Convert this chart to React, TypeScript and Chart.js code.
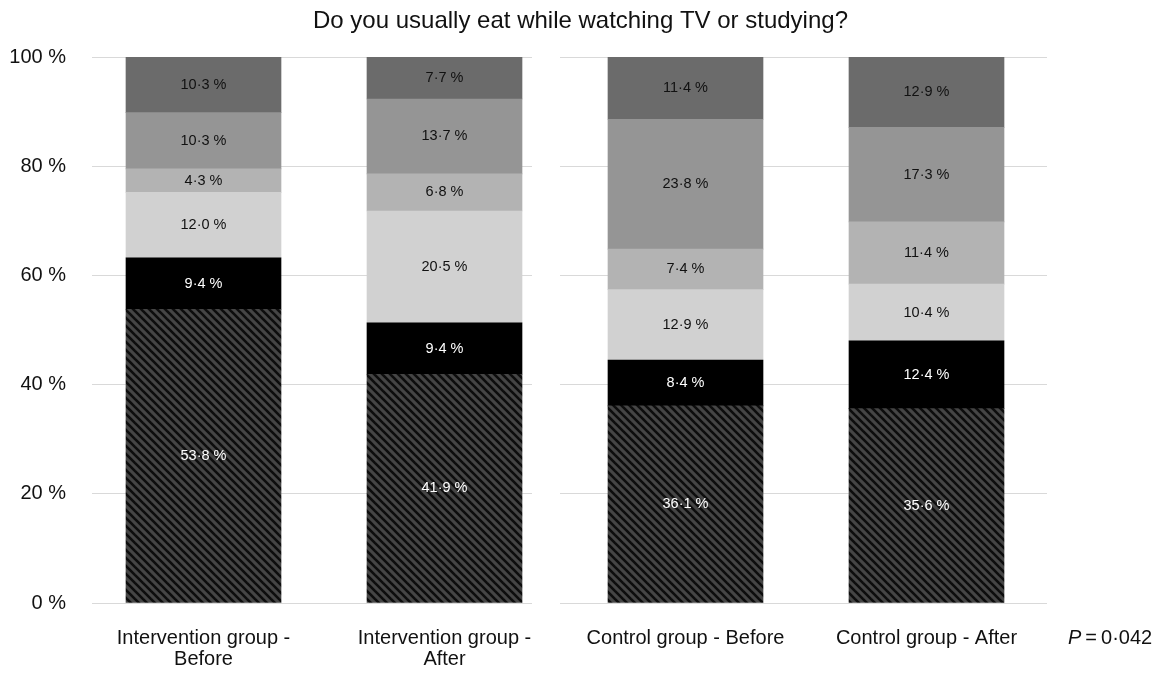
import React, { useEffect, useRef } from "react";
import { Chart, registerables } from "chart.js";

Chart.register(...registerables);

const title = "Do you usually eat while watching TV or studying?";
const categories: (string | string[])[] = [
  ["Intervention group -", "Before"],
  ["Intervention group -", "After"],
  "Control group - Before",
  "Control group - After",
];
const yTicks = [0, 20, 40, 60, 80, 100];
const seriesHatched = [53.8, 41.9, 36.1, 35.6];
const seriesBlack = [9.4, 9.4, 8.4, 12.4];
const seriesLight = [12.0, 20.5, 12.9, 10.4];
const seriesMidLight = [4.3, 6.8, 7.4, 11.4];
const seriesMid = [10.3, 13.7, 23.8, 17.3];
const seriesDark = [10.3, 7.7, 11.4, 12.9];
const pValueLabel = "0·042";

const FONT = "'Liberation Sans', Arial, sans-serif";
const BAR_W = 155;

function makeHatch(): CanvasPattern | string {
  const c = document.createElement("canvas");
  c.width = 8;
  c.height = 8;
  const g = c.getContext("2d");
  if (!g) return "#333";
  g.fillStyle = "#454545";
  g.fillRect(0, 0, 8, 8);
  g.strokeStyle = "#0d0d0d";
  g.lineWidth = 2.6;
  for (const off of [-8, 0, 8]) {
    g.beginPath();
    g.moveTo(off - 1, -1);
    g.lineTo(off + 9, 9);
    g.stroke();
  }
  const p = g.createPattern(c, "repeat");
  return p || "#333";
}

const fmt = (v: number) => `${v.toFixed(1).replace(".", "·")} %`;

export default function App() {
  const ref = useRef<HTMLCanvasElement>(null);
  useEffect(() => {
    if (!ref.current) return;
    const hatch = makeHatch();
    const datasets = [
      { label: "a", data: seriesHatched, backgroundColor: hatch, textColor: "#ffffff" },
      { label: "b", data: seriesBlack, backgroundColor: "#000000", textColor: "#ffffff" },
      { label: "c", data: seriesLight, backgroundColor: "#d1d1d1", textColor: "#111111" },
      { label: "d", data: seriesMidLight, backgroundColor: "#b3b3b3", textColor: "#111111" },
      { label: "e", data: seriesMid, backgroundColor: "#959595", textColor: "#111111" },
      { label: "f", data: seriesDark, backgroundColor: "#6b6b6b", textColor: "#111111" },
    ].map((d) => ({
      ...d,
      barThickness: BAR_W,
      borderWidth: 0,
    }));

    const extras = {
      id: "extras",
      beforeDatasetsDraw(chart: any) {
        const { ctx, chartArea, scales } = chart;
        const xs = scales.x;
        ctx.save();
        ctx.fillStyle = "#ffffff";
        const gx = xs.getPixelForValue(1) + BAR_W / 2 + 10;
        ctx.fillRect(gx, chartArea.top - 2, 28, chartArea.bottom - chartArea.top + 4);
        ctx.fillRect(chartArea.left - 1, chartArea.top - 2, 10, chartArea.bottom - chartArea.top + 4);
        ctx.restore();
      },
      afterDatasetsDraw(chart: any) {
        const { ctx } = chart;
        ctx.save();
        ctx.font = `14.5px ${FONT}`;
        ctx.textAlign = "center";
        ctx.textBaseline = "middle";
        chart.data.datasets.forEach((ds: any, i: number) => {
          const meta = chart.getDatasetMeta(i);
          meta.data.forEach((el: any, j: number) => {
            const v = ds.data[j];
            const { x, y, base } = el.getProps(["x", "y", "base"], true);
            ctx.fillStyle = ds.textColor;
            ctx.fillText(fmt(v), x, (y + base) / 2);
          });
        });
        ctx.restore();
      },
      afterDraw(chart: any) {
        const { ctx, chartArea, width } = chart;
        ctx.save();
        ctx.fillStyle = "#111111";
        ctx.textBaseline = "middle";
        ctx.textAlign = "center";
        ctx.font = `24px ${FONT}`;
        ctx.fillText(title, width / 2, 21);
        ctx.textAlign = "left";
        const py = chartArea.bottom + 35;
        ctx.font = `italic 20px ${FONT}`;
        const px = 1068;
        ctx.fillText("P", px, py);
        const pw = ctx.measureText("P").width;
        ctx.font = `20px ${FONT}`;
        ctx.fillText("\u2009=\u2009" + pValueLabel, px + pw, py);
        ctx.restore();
      },
    };

    const chart = new Chart(ref.current, {
      type: "bar",
      data: { labels: categories, datasets: datasets as any },
      options: {
        responsive: false,
        animation: false,
        layout: { padding: { top: 57, right: 114, bottom: 0, left: 0 } },
        plugins: {
          legend: { display: false },
          title: { display: false },
          tooltip: { enabled: false },
        },
        scales: {
          x: {
            stacked: true,
            grid: { display: false, drawTicks: false },
            border: { display: false },
            ticks: {
              color: "#111111",
              font: { family: FONT, size: 20, lineHeight: 1.05 },
              padding: 25,
              maxRotation: 0,
              autoSkip: false,
            },
            afterFit: (s: any) => {
              s.height = 71;
            },
          },
          y: {
            stacked: true,
            min: 0,
            max: 100,
            afterBuildTicks: (s: any) => {
              s.ticks = yTicks.map((v) => ({ value: v }));
            },
            grid: { color: "#d9d9d9", lineWidth: 1, drawTicks: false },
            border: { display: false },
            ticks: {
              color: "#111111",
              font: { family: FONT, size: 20 },
              padding: 17,
              callback: (v: any) => `${v} %`,
            },
            afterFit: (s: any) => {
              s.width = 83;
            },
          },
        },
      },
      plugins: [extras],
    });
    return () => chart.destroy();
  }, []);

  return (
    <div style={{ position: "fixed", left: 0, top: 0, width: 1161, height: 674, background: "#fff" }}>
      <canvas ref={ref} width={1161} height={674} style={{ width: 1161, height: 674 }} />
    </div>
  );
}
